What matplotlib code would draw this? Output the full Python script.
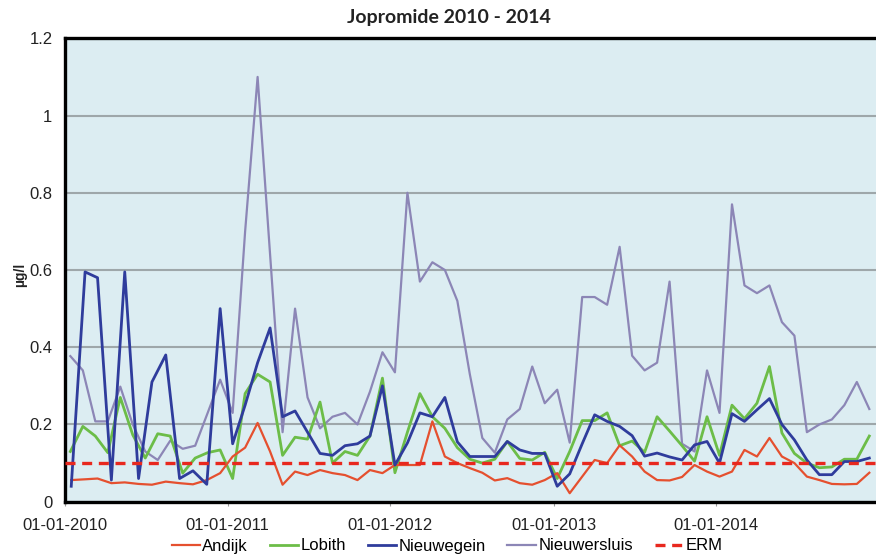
import matplotlib
matplotlib.use('Agg')
import matplotlib.pyplot as plt
import matplotlib.dates as mdates
import matplotlib.ticker as mticker
import pandas as pd

# sampling dates: Andijk and Nieuwegein were sampled monthly in 2010, then every 4 weeks
monthly_2010 = ['2010-01-15', '2010-02-15', '2010-03-15', '2010-04-15', '2010-05-15', '2010-06-15',
                '2010-07-15', '2010-08-15', '2010-09-15', '2010-10-15', '2010-11-15', '2010-12-15']
dates_4w = pd.date_range('2010-01-13', periods=65, freq='28D')
dates_a = list(pd.to_datetime(monthly_2010)) + list(dates_4w[13:])
dates_b = list(dates_4w)

# concentrations in ug/l
andijk = [0.056, 0.058, 0.060, 0.048, 0.050, 0.046, 0.044, 0.052, 0.048, 0.045, 0.056, 0.074,
          0.117, 0.140, 0.204, 0.130, 0.044, 0.078, 0.069, 0.082, 0.074, 0.069, 0.056, 0.082, 0.074,
          0.095, 0.095, 0.095, 0.208, 0.117, 0.100, 0.087, 0.075, 0.055, 0.061, 0.048, 0.044, 0.056,
          0.074, 0.022, 0.065, 0.108, 0.100, 0.146, 0.117, 0.078, 0.056, 0.055, 0.064, 0.095, 0.078,
          0.065, 0.078, 0.134, 0.117, 0.165, 0.117, 0.100, 0.065, 0.056, 0.046, 0.045, 0.046, 0.075]

nieuwegein = [0.040, 0.595, 0.580, 0.056, 0.595, 0.060, 0.310, 0.380, 0.060, 0.080, 0.045, 0.500,
              0.150, 0.250, 0.360, 0.450, 0.220, 0.235, 0.180, 0.125, 0.120, 0.145, 0.150, 0.170, 0.300,
              0.095, 0.152, 0.230, 0.220, 0.270, 0.155, 0.117, 0.117, 0.117, 0.156, 0.134, 0.125, 0.125,
              0.040, 0.072, 0.150, 0.225, 0.208, 0.195, 0.171, 0.118, 0.126, 0.116, 0.108, 0.147, 0.156,
              0.100, 0.228, 0.208, 0.238, 0.267, 0.200, 0.160, 0.108, 0.070, 0.070, 0.104, 0.104, 0.113]

lobith = [0.130, 0.195, 0.170, 0.127, 0.270, 0.173, 0.113, 0.176, 0.170, 0.074, 0.113, 0.127, 0.134,
          0.060, 0.280, 0.330, 0.310, 0.120, 0.167, 0.162, 0.258, 0.100, 0.130, 0.120, 0.170, 0.320,
          0.075, 0.180, 0.280, 0.220, 0.190, 0.140, 0.110, 0.100, 0.110, 0.156, 0.112, 0.108, 0.128,
          0.060, 0.130, 0.210, 0.210, 0.230, 0.145, 0.157, 0.128, 0.220, 0.183, 0.145, 0.105, 0.220,
          0.120, 0.250, 0.215, 0.255, 0.350, 0.178, 0.125, 0.100, 0.088, 0.090, 0.110, 0.110, 0.170]

nieuwersluis = [0.377, 0.340, 0.208, 0.208, 0.298, 0.200, 0.130, 0.108, 0.158, 0.137, 0.145, 0.230, 0.316,
                0.230, 0.700, 1.100, 0.640, 0.180, 0.500, 0.270, 0.190, 0.220, 0.230, 0.200, 0.285, 0.387,
                0.335, 0.800, 0.570, 0.620, 0.600, 0.520, 0.330, 0.165, 0.127, 0.213, 0.240, 0.350, 0.255,
                0.290, 0.153, 0.530, 0.530, 0.510, 0.660, 0.378, 0.340, 0.360, 0.570, 0.150, 0.130, 0.340,
                0.230, 0.770, 0.560, 0.540, 0.560, 0.465, 0.430, 0.180, 0.200, 0.213, 0.250, 0.310, 0.240]

erm = 0.1  # target value

year_ticks = ['2010-01-01', '2011-01-01', '2012-01-01', '2013-01-01', '2014-01-01']
y_ticks = [0, 0.2, 0.4, 0.6, 0.8, 1.0, 1.2]

plt.rcParams['font.family'] = ['Liberation Sans', 'DejaVu Sans']

fig = plt.figure(figsize=(8.76, 5.55), dpi=100)
ax = fig.add_axes([65 / 876, 53.3 / 555, 811 / 876, 463.4 / 555])
ax.set_facecolor('#dcedf2')

ax.plot(dates_b, nieuwersluis, color='#8c86b6', lw=1.6, label='Nieuwersluis', zorder=3)
ax.plot(dates_b, lobith, color='#6cbd48', lw=2.0, label='Lobith', zorder=4)
ax.plot(dates_a, andijk, color='#e5502f', lw=1.6, label='Andijk', zorder=5)
ax.plot(dates_a, nieuwegein, color='#2f3c9c', lw=2.0, label='Nieuwegein', zorder=6)
ax.axhline(erm, color='#e8281e', lw=2.4, ls=(0, (3, 2)), label='ERM', zorder=7)

ax.set_ylim(0, 1.2)
ax.set_xlim(pd.Timestamp('2010-01-01'), pd.Timestamp('2014-12-25'))
ax.set_yticks(y_ticks)
ax.yaxis.set_major_formatter(mticker.FuncFormatter(lambda v, p: '%g' % v))
ax.set_xticks(pd.to_datetime(year_ticks))
ax.xaxis.set_major_formatter(mdates.DateFormatter('%d-%m-%Y'))
ax.tick_params(axis='y', length=0, pad=9, labelsize=12, labelcolor='#222222')
ax.tick_params(axis='x', length=3, color='#999999', pad=9, labelsize=12, labelcolor='#222222')

ax.yaxis.grid(True, color='#9ea7aa', lw=1.5)
ax.set_axisbelow(True)
for side in ['left', 'bottom', 'top']:
    ax.spines[side].set_linewidth(2.4)
    ax.spines[side].set_color('black')
ax.spines['right'].set_visible(False)

# y label sits just left of the tick labels
fig.text(20 / 876, 1 - 275 / 555, 'µg/l', rotation=90, ha='center', va='center',
         fontsize=10, fontweight='bold', color='#222222')

fig.text(449 / 876, 1 - 18 / 555, 'Jopromide 2010 - 2014', ha='center', va='center',
         fontsize=14, fontweight='bold', family='Lato', color='#222222')

handles, labels = ax.get_legend_handles_labels()
order = ['Andijk', 'Lobith', 'Nieuwegein', 'Nieuwersluis', 'ERM']
handles = [handles[labels.index(n)] for n in order]
fig.legend(handles, order, loc='center', bbox_to_anchor=(447 / 876, 1 - 546 / 555), ncol=5,
           frameon=False, fontsize=12, handlelength=1.7, handletextpad=0.15, columnspacing=1.3)

fig.savefig('out.png', dpi=100)
